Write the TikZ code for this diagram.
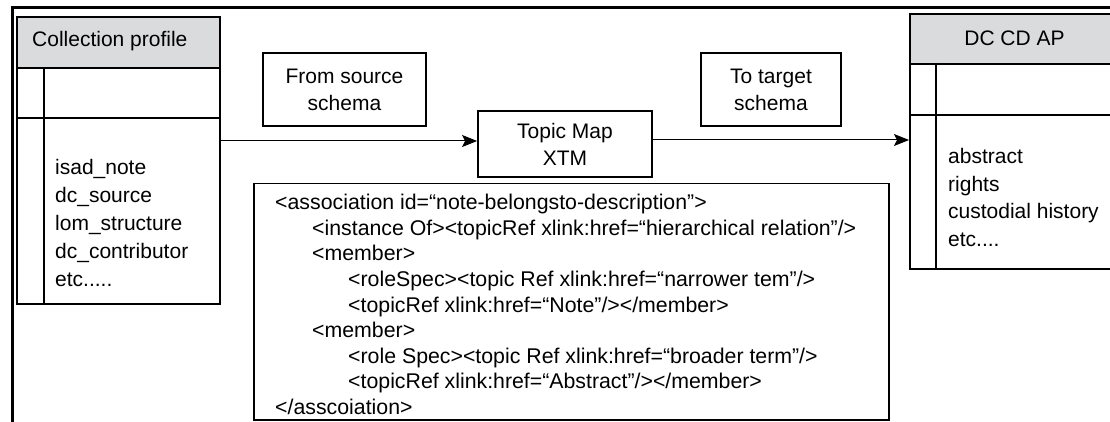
\documentclass[tikz,border=0pt]{standalone}
\usepackage{fontspec}
\setmainfont{Liberation Sans}
\usetikzlibrary{arrows.meta}
\definecolor{hdrgray}{RGB}{218,219,221}
\begin{document}
\begin{tikzpicture}[x=1pt,y=-1pt,
  box/.style={draw, line width=1.8pt, inner sep=0pt, align=center, font=\fontsize{21}{27}\selectfont},
  hdr/.style={box, fill=hdrgray},
  divider/.style={line width=1.3pt},
  listtext/.style={inner sep=0pt, align=left, font=\fontsize{21}{27.8}\selectfont},
  codetext/.style={inner sep=0pt, align=left, font=\fontsize{21.3}{25.6}\selectfont},
  conn/.style={line width=1pt, -{Stealth[length=15pt,width=12pt,inset=3pt]}},
  frame/.style={line width=2.7pt}]
\clip (0,0) rectangle (1110,422);
\fill[white] (0,0) rectangle (1110,422);
% outer frame
\draw[frame] (12.7,425) -- (12.7,7.5) -- (1115,7.5);
% Collection profile
\node[box, minimum width=203pt, minimum height=287pt, anchor=north west] (cp) at (16,16) {};
\node[hdr, minimum width=203pt, minimum height=51pt, anchor=north west] (cph) at (16,16) {};
\node[inner sep=0pt, anchor=west, font=\fontsize{21}{27}\selectfont] (cpt) at (32,41.5) {Collection profile};
\draw[divider] (16,118) -- (219,118);
\draw[divider] (44,67) -- (44,303);
\node[listtext, anchor=west] (cpl) at (55,223) {isad\_note\\dc\_source\\lom\_structure\\dc\_contributor\\etc.....};
% DC CD AP
\node[box, minimum width=212pt, minimum height=255pt, anchor=north west] (dc) at (909,13) {};
\node[hdr, minimum width=212pt, minimum height=50pt, anchor=north west] (dch) at (909,13) {};
\node[inner sep=0pt, font=\fontsize{21}{27}\selectfont] (dct) at (1014.5,38) {DC CD AP};
\draw[divider] (909,115) -- (1121,115);
\draw[divider] (936,63) -- (936,268);
\node[listtext, anchor=west] (dcl) at (948,197.5) {abstract\\rights\\custodial history\\etc....};
% middle boxes
\node[box, minimum width=163pt, minimum height=73pt] (from) at (344.5,89.5) {From source\\schema};
\node[box, minimum width=140pt, minimum height=73pt] (to) at (771,89.5) {To target\\schema};
\node[box, minimum width=174pt, minimum height=66pt] (tm) at (565,144) {Topic Map\\XTM};
% code box
\node[box, line width=1.5pt, minimum width=635pt, minimum height=236pt, anchor=north west] (code) at (253,183) {};
\node[codetext, anchor=west] (codet) at (275,304.5) {%
<association id=“note-belongsto-description”>\\
\hspace*{37pt}<instance Of><topicRef xlink:href=“hierarchical relation”/>\\
\hspace*{37pt}<member>\\
\hspace*{73pt}<roleSpec><topic Ref xlink:href=“narrower tem”/>\\
\hspace*{73pt}<topicRef xlink:href=“Note”/></member>\\
\hspace*{37pt}<member>\\
\hspace*{73pt}<role Spec><topic Ref xlink:href=“broader term”/>\\
\hspace*{73pt}<topicRef xlink:href=“Abstract”/></member>\\
</asscoiation>};
% connectors
\coordinate (y1) at (0,141);
\coordinate (y2) at (0,140);
\draw[conn] (cp.east |- y1) -- (tm.west |- y1);
\draw[conn] (tm.east |- y2) -- (dc.west |- y2);
\end{tikzpicture}
\end{document}
